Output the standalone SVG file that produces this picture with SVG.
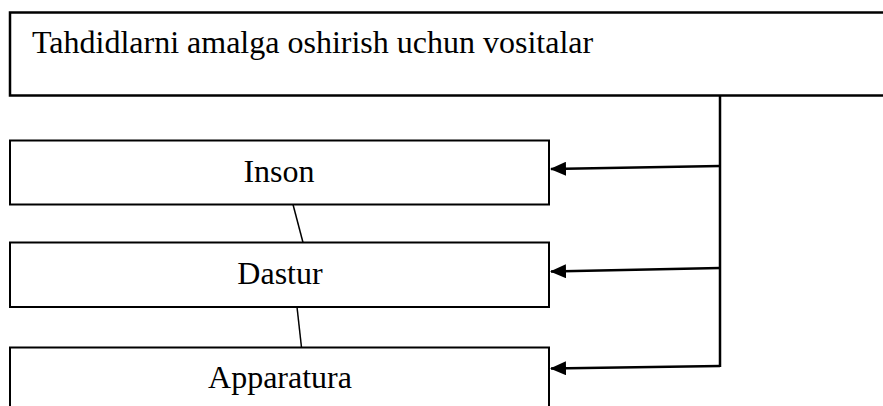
<svg xmlns="http://www.w3.org/2000/svg" width="883" height="406" viewBox="0 0 883 406">
<defs>
<style>
.box{fill:#fff;stroke:#000;stroke-width:2}
.lbl{font-family:"Liberation Serif","Times New Roman",serif;font-size:32px;fill:#000}
.c{text-anchor:middle}
.conn{stroke:#000;stroke-width:2.5;fill:none}
.thin{stroke:#000;stroke-width:1.5;fill:none}
</style>
<marker id="ah" viewBox="0 0 16 14" refX="15" refY="7" markerWidth="16" markerHeight="14" markerUnits="userSpaceOnUse" orient="auto">
<path d="M0,0 L16,7 L0,14 Z" fill="#000"/>
</marker>
</defs>
<rect width="883" height="406" fill="#fff"/>
<g id="top">
<rect class="box" x="10" y="12.5" width="880" height="83" style="stroke-width:2.5"/>
<text class="lbl" x="32" y="53">Tahdidlarni amalga oshirish uchun vositalar</text>
</g>
<g id="inson">
<rect class="box" x="10" y="140.5" width="539" height="64"/>
<text class="lbl c" x="279" y="182">Inson</text>
</g>
<g id="dastur">
<rect class="box" x="10" y="242.5" width="539" height="64.5"/>
<text class="lbl c" x="280" y="284">Dastur</text>
</g>
<g id="apparatura">
<rect class="box" x="10" y="347.5" width="539" height="80"/>
<text class="lbl c" x="280" y="388">Apparatura</text>
</g>
<g id="connectors">
<path class="conn" d="M720,96 V367"/>
<path class="conn" d="M720,166 L551,169" marker-end="url(#ah)"/>
<path class="conn" d="M720,268 L551,271.5" marker-end="url(#ah)"/>
<path class="conn" d="M720,366 L551,368.5" marker-end="url(#ah)"/>
<path class="thin" d="M293,204.5 L303,242.5"/>
<path class="thin" d="M297,307 L301.5,347.5"/>
</g>
</svg>
